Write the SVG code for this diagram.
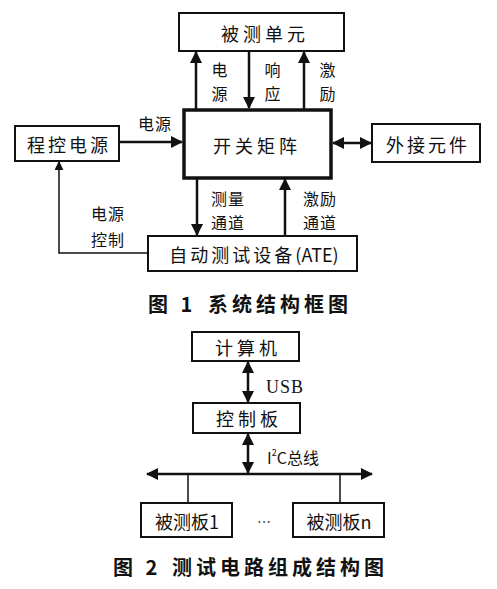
<svg xmlns="http://www.w3.org/2000/svg" width="497" height="589" viewBox="0 0 497 589">
<defs>
<marker id="ah" viewBox="0 0 12 12" refX="11" refY="6" markerWidth="12" markerHeight="12" markerUnits="userSpaceOnUse" orient="auto-start-reverse"><path d="M0,0 L12,6 L0,12 Z" fill="#111"/></marker>
<marker id="ahs" viewBox="0 0 10 10" refX="9" refY="5" markerWidth="9" markerHeight="9" markerUnits="userSpaceOnUse" orient="auto-start-reverse"><path d="M0,0 L10,5 L0,10 Z" fill="#111"/></marker>
<style>
.box{fill:#fff;stroke:#111;stroke-width:2}
.thick{fill:#fff;stroke:#111;stroke-width:3.5}
.t{font-family:"Noto Sans CJK SC","Liberation Serif",serif;font-size:18px;fill:#111;text-anchor:middle;dominant-baseline:central;letter-spacing:4px}
.l{font-family:"Noto Sans CJK SC","Liberation Serif",serif;font-size:16px;fill:#111;text-anchor:middle;dominant-baseline:central;letter-spacing:1px}
.cap{font-family:"Noto Sans CJK SC","Liberation Serif",serif;font-size:20px;font-weight:bold;fill:#111;dominant-baseline:central;letter-spacing:4px}
.c{fill:none;stroke:#111;stroke-width:2.5}
.c2{fill:none;stroke:#111;stroke-width:1.5}
</style>
</defs>
<rect width="497" height="589" fill="#fff"/>
<g id="connectors">
<line class="c" x1="196" y1="109" x2="196" y2="52" marker-end="url(#ah)"/>
<line class="c" x1="249" y1="51" x2="249" y2="108" marker-end="url(#ah)"/>
<line class="c" x1="304" y1="109" x2="304" y2="52" marker-end="url(#ah)"/>
<line class="c" x1="119" y1="142" x2="182" y2="142" marker-end="url(#ah)"/>
<line class="c" x1="333" y1="143" x2="371" y2="143" marker-start="url(#ah)" marker-end="url(#ah)"/>
<line class="c" x1="197" y1="178" x2="197" y2="235" marker-end="url(#ah)"/>
<line class="c" x1="285" y1="236" x2="285" y2="179" marker-end="url(#ah)"/>
<polyline class="c2" points="148,253 59,253 59,162" marker-end="url(#ahs)"/>
<line class="c" x1="248" y1="362" x2="248" y2="402" marker-start="url(#ah)" marker-end="url(#ah)"/>
<line class="c" x1="248" y1="434" x2="248" y2="473" marker-start="url(#ah)" marker-end="url(#ah)"/>
<line class="c" x1="147" y1="474" x2="372" y2="474" marker-start="url(#ah)" marker-end="url(#ah)"/>
<line class="c2" x1="188" y1="474" x2="188" y2="503"/>
<line class="c2" x1="340" y1="474" x2="340" y2="503"/>
</g>
<g id="dut"><rect class="box" x="179" y="13" width="165" height="38"/><text class="t" x="265" y="33">被测单元</text></g>
<g id="matrix"><rect class="thick" x="184" y="110" width="147" height="68"/><text class="t" x="257" y="145">开关矩阵</text></g>
<g id="psu"><rect class="box" x="15" y="126" width="104" height="35"/><text class="t" x="69" y="144" style="letter-spacing:3px">程控电源</text></g>
<g id="ext"><rect class="box" x="372" y="124" width="108" height="38"/><text class="t" x="428" y="144" style="letter-spacing:3px">外接元件</text></g>
<g id="ate"><rect class="box" x="148" y="236" width="209" height="35"/><text class="t" x="254" y="254" style="letter-spacing:3px">自动测试设备<tspan style="letter-spacing:0">(ATE)</tspan></text></g>
<g id="labels1">
<text class="l" x="220" y="69">电</text><text class="l" x="220" y="93">源</text>
<text class="l" x="273" y="69">响</text><text class="l" x="273" y="93">应</text>
<text class="l" x="328" y="69">激</text><text class="l" x="328" y="93">励</text>
<text class="l" x="155" y="123">电源</text>
<text class="l" x="228" y="198">测量</text><text class="l" x="228" y="222">通道</text>
<text class="l" x="320" y="198">激励</text><text class="l" x="320" y="222">通道</text>
<text class="l" x="108" y="213">电源</text><text class="l" x="108" y="239">控制</text>
</g>
<g id="caption1"><text class="cap" x="148" y="303">图 1</text><text class="cap" x="208" y="303">系统结构框图</text></g>
<g id="pc"><rect class="box" x="192" y="332" width="107" height="29"/><text class="t" x="248" y="347">计算机</text></g>
<g id="ctrl"><rect class="box" x="193" y="403" width="107" height="30"/><text class="t" x="249" y="418">控制板</text></g>
<g id="b1"><rect class="box" x="141" y="503" width="91" height="34"/><text class="t" x="187" y="521" style="letter-spacing:0">被测板1</text></g>
<g id="bn"><rect class="box" x="293" y="503" width="91" height="34"/><text class="t" x="339" y="521" style="letter-spacing:0">被测板n</text></g>
<g id="labels2">
<text class="l" x="266" y="387" style="text-anchor:start;font-family:'Liberation Serif',serif;font-size:18px">USB</text>
<text class="l" x="267" y="457" style="text-anchor:start;letter-spacing:0">I<tspan font-size="9" dy="-5">2</tspan><tspan dy="5">C总线</tspan></text>
<text class="l" x="264" y="521" style="font-size:14px;letter-spacing:0">…</text>
</g>
<g id="caption2"><text class="cap" x="113" y="566">图 2</text><text class="cap" x="172" y="566">测试电路组成结构图</text></g>
</svg>
